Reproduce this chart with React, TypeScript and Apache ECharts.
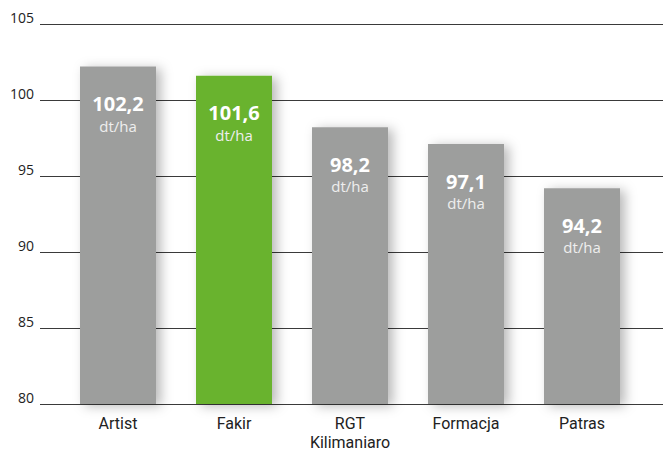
import React, { useEffect, useRef } from "react";
import * as echarts from "echarts";

const categories = ["Artist", "Fakir", "RGT\nKilimaniaro", "Formacja", "Patras"];
const values = [102.2, 101.6, 98.2, 97.1, 94.2];
const highlightIndex = 1;
const yTicks = [80, 85, 90, 95, 100, 105];
const unit = "dt/ha";

export default function App() {
  const ref = useRef<HTMLDivElement>(null);
  useEffect(() => {
    if (!ref.current) return;
    const chart = echarts.init(ref.current, undefined, { renderer: "svg" });
    const font = "'Open Sans', 'Noto Sans', sans-serif";
    const labelFont = "Roboto, 'Open Sans', sans-serif";
    const yMin = yTicks[0];
    const yMax = yTicks[yTicks.length - 1];
    const yInt = yTicks[1] - yTicks[0];
    chart.setOption({
      animation: false,
      grid: [
        { left: 40, right: 0, top: 24, bottom: 48 },
        { left: 60, right: 23, top: 24, bottom: 48 },
      ],
      xAxis: [
        { gridIndex: 0, type: "category", data: categories, show: false },
        {
          gridIndex: 1,
          type: "category",
          data: categories,
          axisLine: { show: false },
          axisTick: { show: false },
          axisLabel: {
            color: "#222",
            fontSize: 16,
            fontFamily: labelFont,
            lineHeight: 19,
            margin: 10,
          },
        },
      ],
      yAxis: [
        {
          gridIndex: 0,
          type: "value",
          min: yMin,
          max: yMax,
          interval: yInt,
          axisLine: { show: false },
          axisTick: { show: false },
          splitLine: { lineStyle: { color: "#3a3a3a", width: 1 } },
          axisLabel: {
            color: "#222",
            fontSize: 14,
            fontFamily: font,
            margin: 6,
            verticalAlign: "bottom",
          },
        },
        {
          gridIndex: 1,
          type: "value",
          min: yMin,
          max: yMax,
          interval: yInt,
          show: false,
        },
      ],
      series: [
        {
          type: "bar",
          xAxisIndex: 1,
          yAxisIndex: 1,
          barWidth: 76,
          data: values.map((v, i) => ({
            value: v,
            itemStyle: {
              color: i === highlightIndex ? "#69b32d" : "#9d9e9d",
              shadowColor: "rgba(0,0,0,0.28)",
              shadowBlur: 12,
              shadowOffsetX: 5,
              shadowOffsetY: 2,
            },
          })),
          label: {
            show: true,
            position: "insideTop",
            distance: 25,
            formatter: (p: any) =>
              `{v|${String(p.value).replace(".", ",")}}\n{u|${unit}}`,
            rich: {
              v: {
                color: "#ffffff",
                fontSize: 20,
                fontWeight: "bold",
                fontFamily: font,
                lineHeight: 24,
              },
              u: {
                color: "#eeeeee",
                fontSize: 15,
                fontFamily: font,
                lineHeight: 20,
              },
            },
          },
        },
      ],
    });
    return () => chart.dispose();
  }, []);
  return <div ref={ref} style={{ width: 663, height: 452, position: "absolute", left: 0, top: 0 }} />;
}
